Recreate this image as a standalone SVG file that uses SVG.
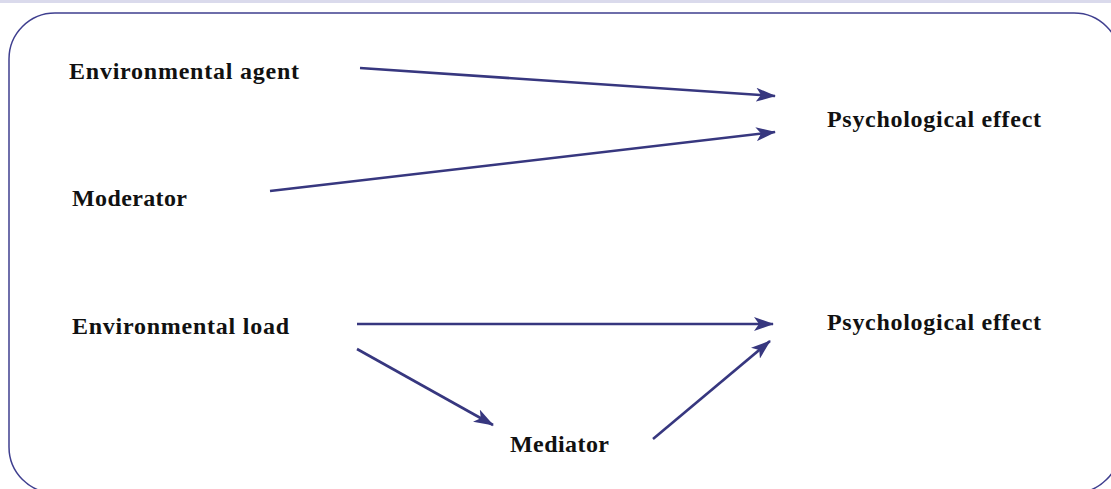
<svg xmlns="http://www.w3.org/2000/svg" width="1111" height="489" viewBox="0 0 1111 489">
  <style>
    .label { font-family: "Liberation Serif", "DejaVu Serif", serif; font-weight: bold; font-size: 24px; fill: #111111; }
    .edge { stroke: #37377f; stroke-width: 2.6; fill: none; marker-end: url(#head); }
  </style>
  <defs>
    <marker id="head" markerUnits="userSpaceOnUse" viewBox="0 0 20 14" refX="19" refY="7" markerWidth="20" markerHeight="14" orient="auto">
      <path d="M0,0 L20,7 L0,14 L5,7 Z" fill="#37377f"/>
    </marker>
  </defs>

  <!-- top band and frame -->
  <rect x="0" y="0" width="1111" height="3" fill="#dadaec"/>
  <rect x="9" y="13" width="1111" height="480" rx="46" ry="46" fill="#ffffff" stroke="#3f3f8f" stroke-width="1.5"/>

  <g id="connectors">
    <line class="edge" x1="360" y1="68" x2="775" y2="96"/>
    <line class="edge" x1="270" y1="191" x2="775" y2="132"/>
    <line class="edge" x1="357" y1="324" x2="773" y2="324"/>
    <line class="edge" x1="357" y1="349" x2="493" y2="425"/>
    <line class="edge" x1="653" y1="439" x2="770" y2="341"/>
  </g>

  <g id="environmental-agent"><text class="label" x="69" y="79" textLength="230">Environmental agent</text></g>
  <g id="moderator"><text class="label" x="72" y="206" textLength="115">Moderator</text></g>
  <g id="psychological-effect-1"><text class="label" x="827" y="127" textLength="214">Psychological effect</text></g>
  <g id="environmental-load"><text class="label" x="72" y="334" textLength="217">Environmental load</text></g>
  <g id="psychological-effect-2"><text class="label" x="827" y="330" textLength="214">Psychological effect</text></g>
  <g id="mediator"><text class="label" x="510" y="452" textLength="99">Mediator</text></g>
</svg>
